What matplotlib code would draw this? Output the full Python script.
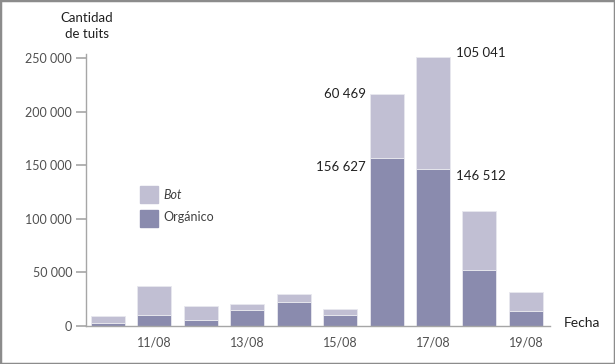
import matplotlib.pyplot as plt
from matplotlib.patches import Rectangle

plt.rcParams['font.family'] = ['Lato', 'DejaVu Sans']

# Datos
fechas = ['10/08', '11/08', '12/08', '13/08', '14/08', '15/08', '16/08', '17/08', '18/08', '19/08']
organico = [2800, 10300, 5600, 15000, 22100, 10300, 156627, 146512, 52400, 13700]
bot = [6200, 26800, 13100, 5300, 7500, 5600, 60469, 105041, 55100, 17500]
yticks = [0, 50000, 100000, 150000, 200000, 250000]

c_org = '#8a8bae'
c_bot = '#c1bfd3'


def fmt(v):
    return '{:,}'.format(v).replace(',', ' ')


fig = plt.figure(figsize=(6.15, 3.64), dpi=100)
fig.patches.append(Rectangle((0, 0), 1, 1, transform=fig.transFigure, fill=False,
                             edgecolor='#8c8c8c', linewidth=2.5))
ax = fig.add_axes([0.1398, 0.1053, 0.7545, 0.7456])

x = list(range(len(fechas)))
ax.bar(x, organico, width=0.73, color=c_org, edgecolor='#e8e8ee', linewidth=0.6)
ax.bar(x, bot, bottom=organico, width=0.73, color=c_bot, edgecolor='#e8e8ee', linewidth=0.6)

ax.set_xlim(-0.474, 9.52)
ax.set_ylim(0, 253800)
ax.set_yticks(yticks)
ax.set_yticklabels([fmt(v) for v in yticks])
ax.set_xticks(x[1::2])
ax.set_xticklabels(fechas[1::2])

for s in ['top', 'right']:
    ax.spines[s].set_visible(False)
for s in ['left', 'bottom']:
    ax.spines[s].set_color('#a6a6a6')
    ax.spines[s].set_linewidth(1.0)
ax.tick_params(axis='y', length=7, color='#a6a6a6', width=1.2, labelsize=9,
               labelcolor='#505050', pad=3)
ax.tick_params(axis='x', length=0, labelsize=9, labelcolor='#505050', pad=8)

# Etiquetas de valores
ax.text(6 - 0.45, organico[6] + bot[6], fmt(bot[6]),
        ha='right', va='center', fontsize=9.5, color='#202020')
ax.text(6 - 0.45, organico[6] - 8000, fmt(organico[6]),
        ha='right', va='center', fontsize=9.5, color='#202020')
ax.text(7 + 0.5, organico[7] + bot[7] + 3000, fmt(bot[7]),
        ha='left', va='center', fontsize=9.5, color='#202020')
ax.text(7 + 0.5, organico[7] - 7000, fmt(organico[7]),
        ha='left', va='center', fontsize=9.5, color='#202020')

# Leyenda
ax.add_patch(Rectangle((0.69, 114700), 0.38, 15900, color=c_bot, clip_on=False))
ax.add_patch(Rectangle((0.69, 92300), 0.38, 15900, color=c_org, clip_on=False))
ax.text(1.2, 122000, 'Bot', style='italic', fontsize=9, color='#404040', va='center')
ax.text(1.2, 101500, 'Orgánico', fontsize=9, color='#404040', va='center')

fig.text(87 / 615, 1 - 26 / 364, 'Cantidad\nde tuits', ha='center', va='center',
         fontsize=9.5, linespacing=1.5, color='#202020')
fig.text(582 / 615, 1 - 323 / 364, 'Fecha', ha='center', va='center', fontsize=10,
         color='#202020')

fig.savefig('out.png', dpi=100)
